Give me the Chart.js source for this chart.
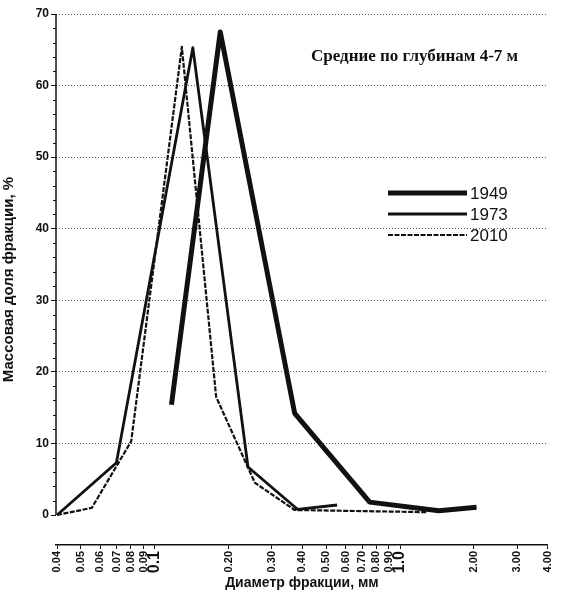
<!DOCTYPE html>
<html>
<head>
<meta charset="utf-8">
<script src="https://cdn.jsdelivr.net/npm/chart.js@4/dist/chart.umd.min.js"></script>
<style>
  html, body { margin: 0; padding: 0; background: #fff; }
</style>
</head>
<body>
<canvas id="grain" width="563" height="594"></canvas>
<script>
// x axis ticks (mm) and their printed labels
const xTicks = [0.04, 0.05, 0.06, 0.07, 0.08, 0.09, 0.1, 0.2, 0.3, 0.4, 0.5, 0.6, 0.7, 0.8, 0.9, 1.0, 2.0, 3.0, 4.0];
const xTickLabels = ['0.04', '0.05', '0.06', '0.07', '0.08', '0.09', '0.1', '0.20', '0.30', '0.40', '0.50', '0.60', '0.70', '0.80', '0.90', '1.0', '2.00', '3.00', '4.00'];

// series
const sizes1949 = [0.117, 0.185, 0.372, 0.752, 1.44, 2.05];
const mass1949 = [15.4, 67.5, 14.2, 1.8, 0.6, 1.1];
const sizes1973 = [0.04, 0.0698, 0.143, 0.240, 0.382, 0.554];
const mass1973 = [0, 7.3, 65.3, 6.7, 0.8, 1.4];
const sizes2010 = [0.04, 0.0554, 0.0802, 0.129, 0.178, 0.256, 0.372, 1.28];
const mass2010 = [0, 1.0, 10.3, 65.4, 16.5, 4.5, 0.7, 0.4];

const seriesNames = ['1949', '1973', '2010'];
const chartTitle = 'Средние по глубинам 4-7 м';

const toPoints = (xs, ys) => xs.map((x, i) => ({ x: x, y: ys[i] }));

const INK = '#111';
const SANS = '"Liberation Sans", Arial, sans-serif';

// axis line for y only spans 0..70, plus minor ticks, the in-plot title and legend
const decor = {
  id: 'decor',
  afterDraw(chart) {
    const ctx = chart.ctx;
    const y = chart.scales.y;
    const left = chart.chartArea.left;
    ctx.save();
    ctx.strokeStyle = INK;
    ctx.lineWidth = 1.5;
    ctx.beginPath();
    ctx.moveTo(left, y.getPixelForValue(70));
    ctx.lineTo(left, y.getPixelForValue(0));
    ctx.stroke();
    ctx.lineWidth = 1;
    for (let v = 0; v <= 70; v += 2) {
      if (v % 10 === 0) continue;
      const py = Math.round(y.getPixelForValue(v)) + 0.5;
      ctx.beginPath();
      ctx.moveTo(left - 3, py);
      ctx.lineTo(left, py);
      ctx.stroke();
    }

    ctx.fillStyle = INK;
    ctx.font = 'bold 17px "Liberation Serif", serif';
    ctx.textBaseline = 'alphabetic';
    ctx.fillText(chartTitle, 311, 61);

    // legend
    ctx.font = '17px ' + SANS;
    ctx.textBaseline = 'middle';
    const rows = [193, 214, 235];
    chart.data.datasets.forEach((ds, i) => {
      ctx.lineWidth = ds.borderWidth;
      ctx.setLineDash(ds.borderDash || []);
      ctx.beginPath();
      ctx.moveTo(388, rows[i]);
      ctx.lineTo(467, rows[i]);
      ctx.stroke();
      ctx.setLineDash([]);
      ctx.fillText(seriesNames[i], 470, rows[i] + 1);
    });
    ctx.restore();
  }
};

new Chart(document.getElementById('grain'), {
  type: 'line',
  data: {
    datasets: [
      {
        label: seriesNames[0],
        data: toPoints(sizes1949, mass1949),
        borderColor: INK,
        borderWidth: 5,
        borderJoinStyle: 'round',
        pointRadius: 0,
        tension: 0
      },
      {
        label: seriesNames[1],
        data: toPoints(sizes1973, mass1973),
        borderColor: INK,
        borderWidth: 2.8,
        borderJoinStyle: 'round',
        pointRadius: 0,
        tension: 0
      },
      {
        label: seriesNames[2],
        data: toPoints(sizes2010, mass2010),
        borderColor: INK,
        borderWidth: 2.2,
        borderDash: [5, 1.5],
        borderJoinStyle: 'round',
        pointRadius: 0,
        tension: 0
      }
    ]
  },
  options: {
    responsive: false,
    animation: false,
    layout: { padding: { top: 14, right: 10, left: 0, bottom: 0 } },
    scales: {
      x: {
        type: 'logarithmic',
        min: 0.0396,
        max: 4,
        afterBuildTicks: scale => { scale.ticks = xTicks.map(v => ({ value: v })); },
        afterFit: scale => { scale.height = 49; },
        ticks: {
          autoSkip: false,
          minRotation: 90,
          maxRotation: 90,
          padding: 2,
          color: INK,
          font: ctx => {
            const v = ctx.tick ? ctx.tick.value : 0;
            return (v === 0.1 || v === 1.0)
              ? { family: SANS, size: 16, weight: 'bold' }
              : { family: SANS, size: 11, weight: 'bold' };
          },
          callback: (val, i) => xTickLabels[i]
        },
        grid: { drawOnChartArea: false, tickLength: 4, color: INK },
        border: { display: true, color: INK, width: 1.5 },
        title: {
          display: true,
          text: 'Диаметр фракции, мм',
          color: INK,
          font: { family: SANS, size: 14, weight: 'bold' },
          padding: { top: 0, bottom: 2 }
        }
      },
      y: {
        min: -4.19,
        max: 70,
        afterBuildTicks: scale => {
          const t = [];
          for (let v = 0; v <= 70; v += 10) t.push({ value: v });
          scale.ticks = t;
        },
        afterFit: scale => { scale.width = 56; },
        ticks: {
          color: INK,
          padding: 2,
          font: { family: SANS, size: 12, weight: 'bold' }
        },
        grid: {
          color: ctx => (ctx.tick && ctx.tick.value > 0) ? '#555' : 'rgba(0,0,0,0)',
          tickColor: INK,
          tickLength: 5,
          lineWidth: 1
        },
        border: { display: false, dash: [1, 2] },
        title: {
          display: true,
          text: 'Массовая доля фракции, %',
          color: INK,
          font: { family: SANS, size: 15, weight: 'bold' },
          padding: { top: 0, bottom: 2 }
        }
      }
    },
    plugins: {
      legend: { display: false },
      tooltip: { enabled: false }
    }
  },
  plugins: [decor]
});
</script>
</body>
</html>
